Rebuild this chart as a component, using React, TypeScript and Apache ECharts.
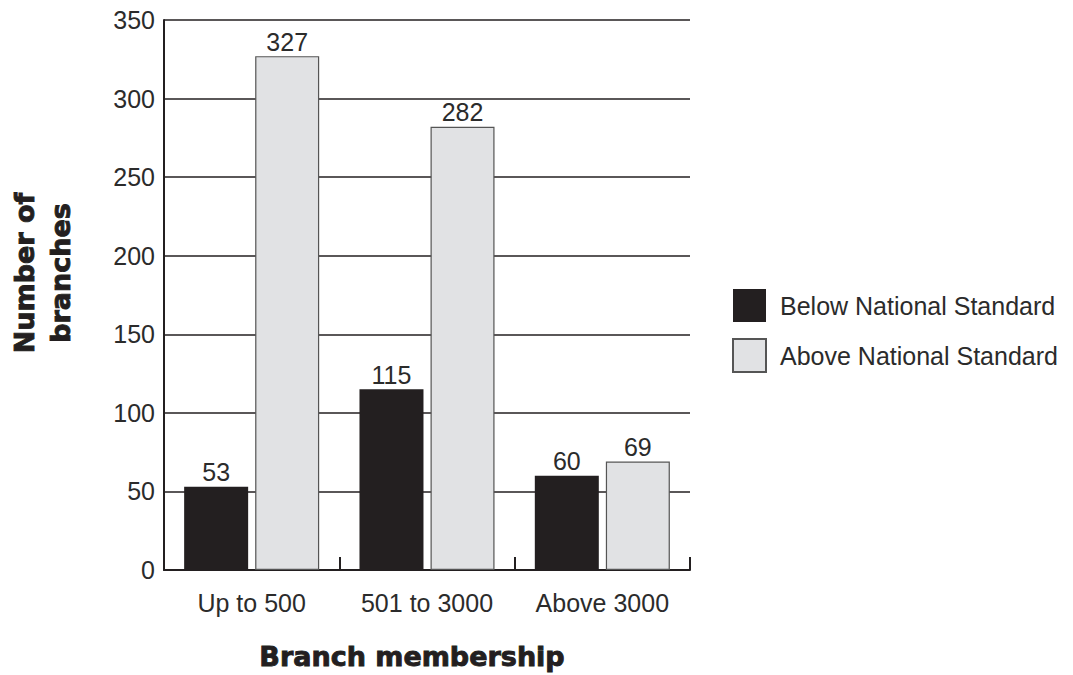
import React, { useEffect, useRef } from "react";
import * as echarts from "echarts";

// Branch counts by membership size, split by national standard
const categories = ["Up to 500", "501 to 3000", "Above 3000"];
const belowStandard = [53, 115, 60];
const aboveStandard = [327, 282, 69];
const seriesNames = ["Below National Standard", "Above National Standard"];
const yTicks = { min: 0, max: 350, interval: 50 };

const INK = "#231f20";
const TEXT = "#2b2b2b";
const LIGHT = "#e1e2e4";
const BASE_FONT = "'Liberation Sans', Arial, Helvetica, sans-serif";
const TITLE_FONT = "'DejaVu Sans', sans-serif";

export default function App() {
  const ref = useRef<HTMLDivElement>(null);

  useEffect(() => {
    if (!ref.current) return;
    const chart = echarts.init(ref.current, null, { renderer: "svg" });

    const labelStyle = {
      show: true,
      position: "top",
      distance: 2,
      color: TEXT,
      fontSize: 25,
      fontFamily: BASE_FONT,
    };

    // Heavy axis titles: bold face thickened with a thin outline of the same ink
    const titleStyle = {
      fill: INK,
      font: `bold 27px ${TITLE_FONT}`,
      stroke: INK,
      lineWidth: 0.9,
      textAlign: "center",
      textVerticalAlign: "middle",
    };

    chart.setOption({
      animation: false,
      backgroundColor: "#ffffff",
      textStyle: { fontFamily: BASE_FONT },
      grid: { left: 164, right: 383, top: 20, bottom: 105, containLabel: false },
      xAxis: {
        type: "category",
        data: categories,
        axisLine: { show: true, lineStyle: { color: INK, width: 2 } },
        axisTick: { show: true, inside: true, length: 13, lineStyle: { color: INK, width: 2 } },
        axisLabel: { color: TEXT, fontSize: 25, margin: 20, fontFamily: BASE_FONT },
        splitLine: { show: false },
      },
      yAxis: {
        type: "value",
        min: yTicks.min,
        max: yTicks.max,
        interval: yTicks.interval,
        axisLine: { show: true, lineStyle: { color: INK, width: 2 } },
        axisTick: { show: false },
        axisLabel: { color: TEXT, fontSize: 25, margin: 9, fontFamily: BASE_FONT },
        splitLine: { show: true, lineStyle: { color: INK, width: 1.5 } },
      },
      legend: {
        orient: "vertical",
        left: 732,
        top: 289,
        padding: 0,
        itemWidth: 33,
        itemHeight: 33,
        itemGap: 16,
        icon: "rect",
        data: seriesNames,
        textStyle: { color: TEXT, fontSize: 25, fontFamily: BASE_FONT, padding: [0, 0, 0, 9] },
      },
      series: [
        {
          name: seriesNames[0],
          type: "bar",
          data: belowStandard,
          barWidth: 64,
          barGap: "11%",
          itemStyle: { color: INK },
          label: labelStyle,
        },
        {
          name: seriesNames[1],
          type: "bar",
          data: aboveStandard,
          barWidth: 64,
          barGap: "11%",
          itemStyle: { color: LIGHT, borderColor: "#555555", borderWidth: 1.2 },
          label: labelStyle,
        },
      ],
      graphic: [
        {
          type: "text",
          x: 42,
          y: 273,
          rotation: Math.PI / 2,
          style: { ...titleStyle, text: "Number of\nbranches", lineHeight: 36 },
        },
        {
          type: "text",
          x: 412,
          y: 656,
          style: { ...titleStyle, text: "Branch membership" },
        },
      ],
    });

    return () => chart.dispose();
  }, []);

  return (
    <div
      ref={ref}
      style={{ position: "fixed", left: 0, top: 0, width: 1073, height: 675, background: "#fff" }}
    />
  );
}
